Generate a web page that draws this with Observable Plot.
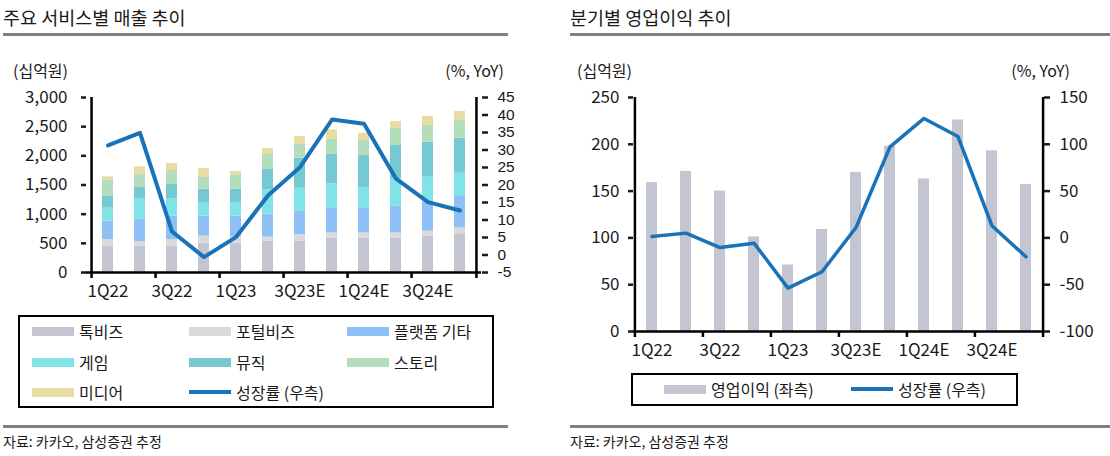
<!DOCTYPE html>
<html><head><meta charset="utf-8">
<script src="https://cdn.jsdelivr.net/npm/d3@7"></script>
<script src="https://cdn.jsdelivr.net/npm/@observablehq/plot@0.6"></script>
<style>
body{margin:0;background:#fff;font-family:"Noto Sans CJK KR","Noto Sans",sans-serif;color:#1a1a1a;}
#page{position:relative;width:1110px;height:456px;overflow:hidden;}
.abs{position:absolute;white-space:nowrap;line-height:1;}
.title{font-size:18.5px;}
.hr{position:absolute;height:3px;background:#808080;}
.unit{font-size:16px;}
.src{font-size:14px;}
.legend{position:absolute;border:2px solid #000;box-sizing:border-box;}
.item{position:absolute;display:flex;align-items:center;height:20px;font-size:16px;white-space:nowrap;}
.sw{display:inline-block;width:42px;height:9px;margin-right:5px;}
.svgbox{position:absolute;}
</style></head><body><div id="page"></div>
<script>
// ---------- data ----------
const quarters = ["1Q22","2Q22","3Q22","4Q22","1Q23","2Q23","3Q23E","4Q23E","1Q24E","2Q24E","3Q24E","4Q24E"];
const seriesNames = ["톡비즈","포털비즈","플랫폼 기타","게임","뮤직","스토리","미디어"];
const talkBiz     = [451,451,451,503,503,537,537,588,588,588,623,663];
const portalBiz   = [115,80,115,120,103,69,109,92,92,92,85,103];
const platformEtc = [314,377,399,342,362,394,400,429,429,456,497,537];
const game        = [235,360,295,235,229,420,399,411,343,464,428,399];
const music       = [188,189,248,228,234,345,514,514,553,577,600,600];
const story       = [286,228,240,200,235,269,246,258,257,293,287,303];
const media       = [51,126,120,154,68,91,126,154,126,118,157,155];
const revenueGrowth = [31.3,34.9,6.7,-0.6,5.1,17.0,25.1,38.7,37.5,21.8,15.1,12.7];
const opProfit = [159,171,150,101,71,109,170,198,163,226,193,157];
const opGrowth = [1.5,5.1,-10.3,-5.6,-53.6,-36.2,11.1,97.3,127.6,108.3,12.9,-20.2];
const xTickLabels = ["1Q22","3Q22","1Q23","3Q23E","1Q24E","3Q24E"];
const leftTicksL = [0,500,1000,1500,2000,2500,3000];
const leftTicksR = [-5,0,5,10,15,20,25,30,35,40,45];
const rightTicksL = [0,50,100,150,200,250];
const rightTicksR = [-100,-50,0,50,100,150];

// ---------- style ----------
const seriesColors = ["#c3c5d0","#d9d9d9","#8ec0f5","#80e3e8","#76c9d1","#b3ddbb","#e8dca3"];
const lineColor = "#1a72b8";
const opColor = "#c3c5d0";
const FONT = '"Noto Sans CJK KR","Noto Sans",sans-serif';

const page = document.getElementById("page");
function el(cls, text, css){const d=document.createElement("div");d.className=cls;if(text!=null)d.textContent=text;Object.assign(d.style,css);page.appendChild(d);return d;}

// titles and rules
el("abs title","주요 서비스별 매출 추이",{left:"3px",top:"8px"});
el("abs title","분기별 영업이익 추이",{left:"570px",top:"8px"});
el("hr",null,{left:"3px",top:"33px",width:"505px"});
el("hr",null,{left:"570px",top:"33px",width:"540px"});
el("hr",null,{left:"3px",top:"425px",width:"505px"});
el("hr",null,{left:"570px",top:"425px",width:"540px"});
el("abs src","자료: 카카오, 삼성증권 추정",{left:"3px",top:"434px"});
el("abs src","자료: 카카오, 삼성증권 추정",{left:"570px",top:"434px"});
el("abs unit","(십억원)",{left:"13px",top:"62px"});
el("abs unit","(%, YoY)",{right:(1110-504)+"px",top:"62px"});
el("abs unit","(십억원)",{left:"577px",top:"62px"});
el("abs unit","(%, YoY)",{right:(1110-1070)+"px",top:"62px"});

// ---------- left chart ----------
const seriesValues = [talkBiz,portalBiz,platformEtc,game,music,story,media];
const table = seriesNames.flatMap((s,k)=>quarters.map((q,i)=>({q,s,v:seriesValues[k][i]})));
const growthRows = quarters.map((q,i)=>({q,g:revenueGrowth[i]}));
const L = {width:555,height:230,mt:17,mb:38,ml:86,mr:74};
const stepL = (L.width-L.ml-L.mr)/quarters.length;
const toL = g => (g+5)*60;
const boundaryTicks = quarters.filter((q,i)=>i%2===0);

const axisStyle = {fontSize:17};
const chartL = Plot.plot({
  width:L.width,height:L.height,marginTop:L.mt,marginBottom:L.mb,marginLeft:L.ml,marginRight:L.mr,
  style:{fontFamily:FONT,fontSize:"17px",color:"#1a1a1a",background:"transparent",overflow:"visible"},
  x:{type:"band",domain:quarters,paddingInner:0.67,paddingOuter:0.335,axis:null},
  y:{domain:[0,3000],axis:null},
  color:{domain:seriesNames,range:seriesColors},
  marks:[
    Plot.barY(table,{x:"q",y:"v",fill:"s",order:seriesNames}),
    Plot.line(growthRows,{x:"q",y:d=>toL(d.g),stroke:lineColor,strokeWidth:4}),
    Plot.ruleY([0],{stroke:"#000",strokeWidth:2.5}),
    Plot.ruleX([quarters[0]],{dx:-stepL/2,stroke:"#000",strokeWidth:2.5}),
    Plot.ruleX([quarters[quarters.length-1]],{dx:stepL/2,stroke:"#000",strokeWidth:2.5}),
    Plot.ruleX(boundaryTicks,{dx:-stepL/2,y1:0,y2:0,insetBottom:-6,stroke:"#000",strokeWidth:2.5}),
    Plot.ruleX([quarters[quarters.length-1]],{dx:stepL/2,y1:0,y2:0,insetBottom:-6,stroke:"#000",strokeWidth:2.5}),
    Plot.axisY(leftTicksL,{anchor:"left",tickSize:5,tickPadding:14,tickFormat:d3.format(","),label:null,strokeWidth:2.5,...axisStyle}),
    Plot.axisY(leftTicksR.map(toL),{anchor:"right",tickSize:6,tickPadding:10,tickFormat:v=>String(Math.round(v/60-5)),label:null,strokeWidth:2.5,fontSize:15.5,fontFamily:'"Liberation Sans",sans-serif'}),
    Plot.axisX(xTickLabels,{anchor:"bottom",tickSize:0,tickPadding:12,label:null,...axisStyle})
  ]
});
const boxL = el("svgbox",null,{left:"0px",top:"80px"}); boxL.appendChild(chartL);

// ---------- right chart ----------
const opRows = quarters.map((q,i)=>({q,v:opProfit[i],g:opGrowth[i]}));
const R = {width:555,height:290,mt:17,mb:39,ml:78,mr:67};
const stepR = (R.width-R.ml-R.mr)/quarters.length;
const toR = g => g+100;
const chartR = Plot.plot({
  width:R.width,height:R.height,marginTop:R.mt,marginBottom:R.mb,marginLeft:R.ml,marginRight:R.mr,
  style:{fontFamily:FONT,fontSize:"17px",color:"#1a1a1a",background:"transparent",overflow:"visible"},
  x:{type:"band",domain:quarters,paddingInner:0.68,paddingOuter:0.34,axis:null},
  y:{domain:[0,250],axis:null},
  marks:[
    Plot.barY(opRows,{x:"q",y:"v",fill:opColor}),
    Plot.line(opRows,{x:"q",y:d=>toR(d.g),stroke:lineColor,strokeWidth:3.5}),
    Plot.ruleY([0],{stroke:"#000",strokeWidth:2.5}),
    Plot.ruleX([quarters[0]],{dx:-stepR/2,stroke:"#000",strokeWidth:2.5}),
    Plot.ruleX([quarters[quarters.length-1]],{dx:stepR/2,stroke:"#000",strokeWidth:2.5}),
    Plot.ruleX(boundaryTicks,{dx:-stepR/2,y1:0,y2:0,insetBottom:-6,stroke:"#000",strokeWidth:2.5}),
    Plot.ruleX([quarters[quarters.length-1]],{dx:stepR/2,y1:0,y2:0,insetBottom:-6,stroke:"#000",strokeWidth:2.5}),
    Plot.axisY(rightTicksL,{anchor:"left",tickSize:5,tickPadding:9,label:null,strokeWidth:2.5,...axisStyle}),
    Plot.axisY(rightTicksR.map(toR),{anchor:"right",tickSize:6,tickPadding:10,tickFormat:v=>String(Math.round(v-100)),label:null,strokeWidth:2.5,...axisStyle}),
    Plot.axisX(xTickLabels,{anchor:"bottom",tickSize:0,tickPadding:12,label:null,...axisStyle})
  ]
});
const boxR = el("svgbox",null,{left:"555px",top:"80px"}); boxR.appendChild(chartR);

// ---------- legends ----------
el("legend",null,{left:"18px",top:"315px",width:"476px",height:"93px"});
const legCols = [32,189,347], legRows = [331,362,392];
const legItems = seriesNames.map((s,k)=>({label:s,color:seriesColors[k],line:false}))
  .concat([{label:"성장률 (우측)",color:lineColor,line:true}]);
legItems.forEach((it,k)=>{
  const d = el("item",null,{left:legCols[k%3]+"px",top:(legRows[Math.floor(k/3)]-10)+"px"});
  const sw=document.createElement("span");sw.className="sw";sw.style.background=it.color;if(it.line)sw.style.height="4px";
  d.appendChild(sw);d.appendChild(document.createTextNode(it.label));
});
el("legend",null,{left:"631px",top:"373px",width:"387px",height:"33px"});
[{label:"영업이익 (좌측)",color:opColor,line:false,x:664},{label:"성장률 (우측)",color:lineColor,line:true,x:851}].forEach(it=>{
  const d = el("item",null,{left:it.x+"px",top:"379px"});
  const sw=document.createElement("span");sw.className="sw";sw.style.background=it.color;if(it.line)sw.style.height="4px";
  d.appendChild(sw);d.appendChild(document.createTextNode(it.label));
});
</script></body></html>
